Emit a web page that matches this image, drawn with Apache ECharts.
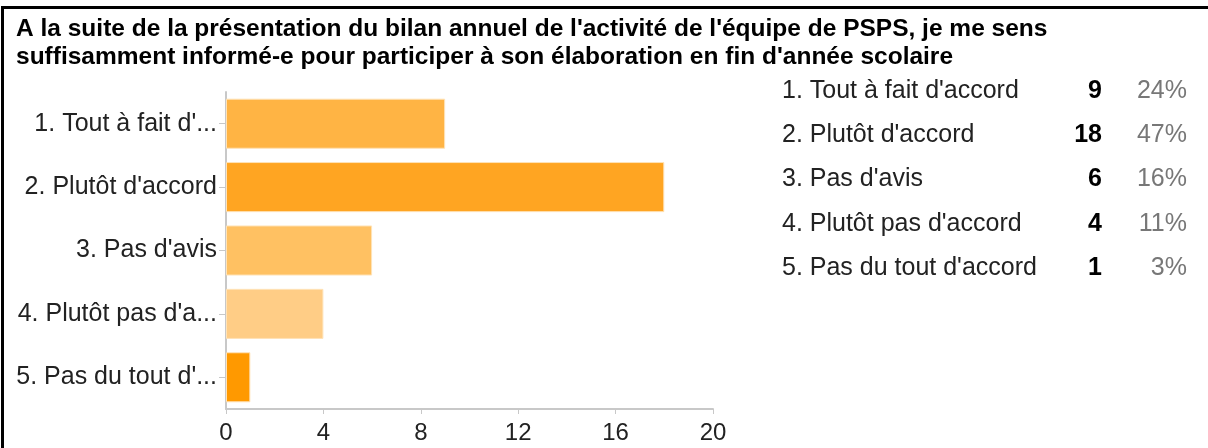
<!DOCTYPE html>
<html>
<head>
<meta charset="utf-8">
<title>PSPS</title>
<script src="https://cdn.jsdelivr.net/npm/echarts@6/dist/echarts.min.js"></script>
<style>
  html, body { margin: 0; padding: 0; background: #fff; overflow: hidden; width: 1208px; height: 448px; }
  #frame { position: absolute; left: 1px; top: 6px; width: 1300px; height: 500px; box-sizing: border-box; border-top: 3px solid #000; border-left: 3px solid #000; }
  #main { position: absolute; left: 0; top: 0; width: 1208px; height: 448px; }
</style>
</head>
<body>
<div id="frame"></div>
<div id="main"></div>
<script>
// réponses (libellés complets et tronqués)
var fullLabels = ['1. Tout à fait d\'accord', '2. Plutôt d\'accord', '3. Pas d\'avis', '4. Plutôt pas d\'accord', '5. Pas du tout d\'accord'];
var shortLabels = ['1. Tout à fait d\'...', '2. Plutôt d\'accord', '3. Pas d\'avis', '4. Plutôt pas d\'a...', '5. Pas du tout d\'...'];
var counts = [9, 18, 6, 4, 1];
var percents = ['24%', '47%', '16%', '11%', '3%'];
var barColors = ['#ffb444', '#ffa522', '#ffc162', '#ffcd86', '#ff9900'];
var xTicks = { min: 0, max: 20, interval: 4 };
var title = 'A la suite de la présentation du bilan annuel de l\'activité de l\'équipe de PSPS, je me sens\nsuffisamment informé-e pour participer à son élaboration en fin d\'année scolaire';

var chart = echarts.init(document.getElementById('main'));
var font = 'Liberation Sans, Arial, sans-serif';

var option = {
    animation: false,
    textStyle: { fontFamily: font },
    title: {
        text: title,
        left: 11, top: 10,
        textStyle: { fontSize: 24.5, fontWeight: 'bold', color: '#000', lineHeight: 28, fontFamily: font }
    },
    grid: [
        { left: 226, top: 92, width: 487, height: 317 },       // barres
        { left: 782, top: 69, width: 410, height: 221 }        // tableau
    ],
    xAxis: [
        {
            type: 'value', gridIndex: 0,
            min: xTicks.min, max: xTicks.max, interval: xTicks.interval,
            splitLine: { show: false },
            axisLine: { show: true, lineStyle: { color: '#c8c8c8', width: 2 } },
            axisTick: { show: true, length: 5, lineStyle: { color: '#c8c8c8' } },
            axisLabel: { fontSize: 24, color: '#222', margin: 12 }
        },
        { type: 'value', gridIndex: 1, min: 0, max: 1, show: false }
    ],
    yAxis: [
        {
            type: 'category', gridIndex: 0, inverse: true,
            data: shortLabels,
            axisLine: { show: true, lineStyle: { color: '#c8c8c8', width: 2 } },
            axisTick: { show: true, alignWithLabel: true, length: 7, lineStyle: { color: '#c8c8c8' } },
            axisLabel: { fontSize: 25, color: '#222', margin: 9 }
        },
        {
            type: 'category', gridIndex: 1, inverse: true,
            data: fullLabels,
            axisLine: { show: false }, axisTick: { show: false },
            axisLabel: {
                margin: 0, align: 'left', fontSize: 25,
                formatter: function (v, i) {
                    return '{n|' + v + '}{c|' + counts[i] + '}{p|' + percents[i] + '}';
                },
                rich: {
                    n: { width: 286, align: 'left', fontSize: 25, color: '#222' },
                    c: { width: 34, align: 'right', fontSize: 25, fontWeight: 'bold', color: '#000' },
                    p: { width: 85, align: 'right', fontSize: 25, color: '#777' }
                }
            }
        }
    ],
    series: [
        {
            type: 'bar', xAxisIndex: 0, yAxisIndex: 0,
            barCategoryGap: '21%',
            data: counts.map(function (v, i) {
                return { value: v, itemStyle: { color: barColors[i] } };
            }),
            itemStyle: { borderColor: '#ffe3b8', borderWidth: 1 }
        }
    ]
};
chart.setOption(option);
</script>
</body>
</html>
